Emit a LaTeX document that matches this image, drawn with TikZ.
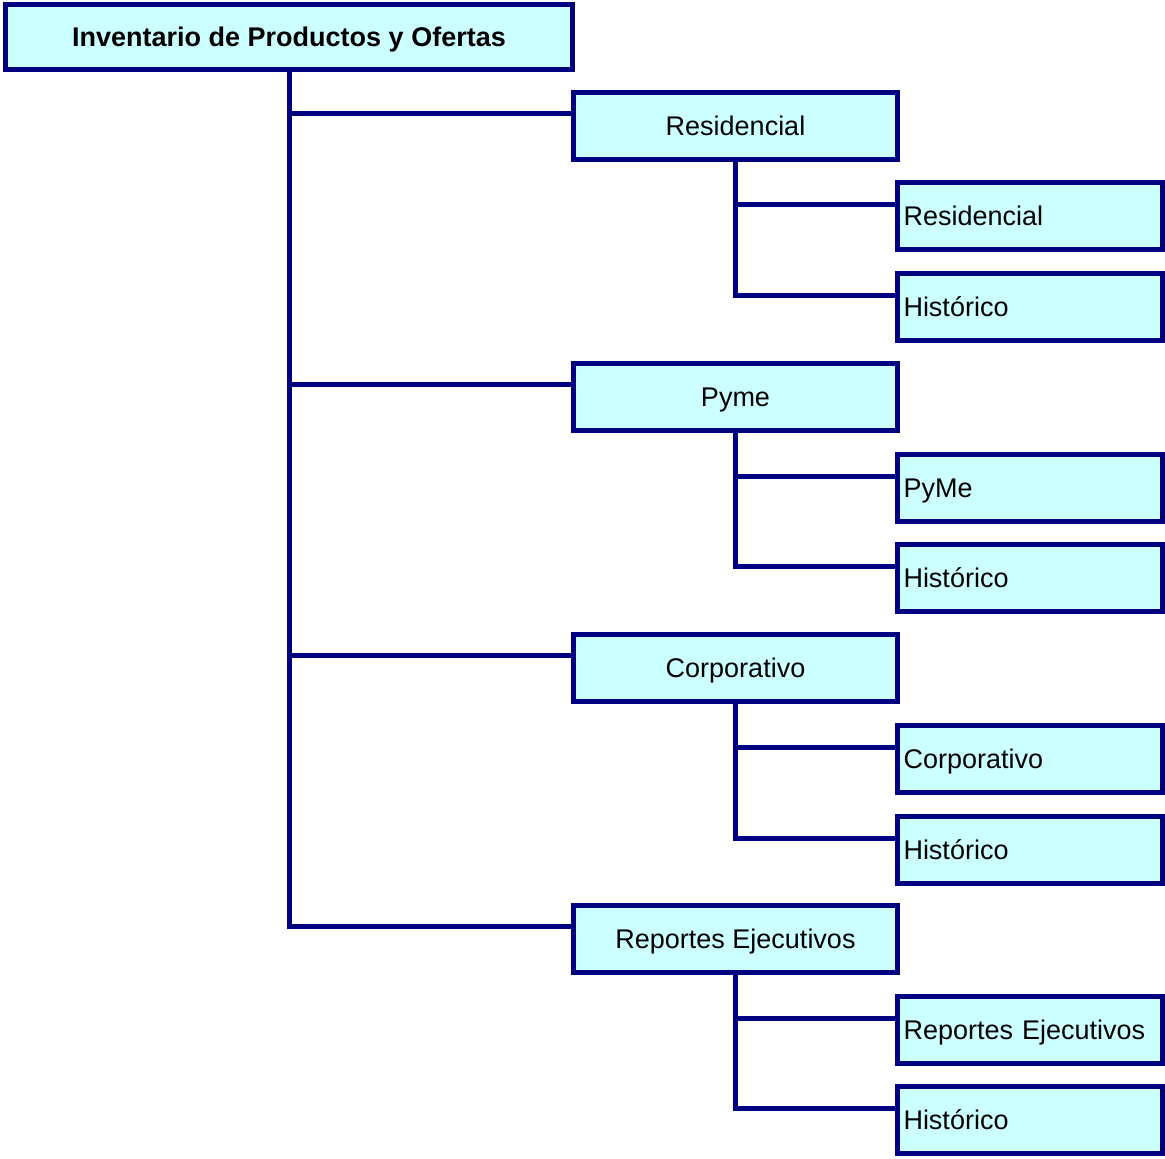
\documentclass[tikz,border=0pt]{standalone}
\usepackage{fontspec}
\setmainfont{Liberation Sans}
\definecolor{boxfill}{HTML}{CCFFFF}
\definecolor{boxline}{HTML}{000080}
\begin{document}
\begin{tikzpicture}[x=1pt,y=-1pt,
  every node/.style={font=\fontsize{27}{32}\selectfont, text=black},
  box/.style={draw=boxline, fill=boxfill, line width=5pt, inner sep=0pt,
              text height=20pt, text depth=1pt},
  rootbox/.style={box, minimum width=567pt, minimum height=65pt, font=\fontsize{27}{32}\selectfont\bfseries},
  midbox/.style={box, minimum width=324pt, minimum height=67pt},
  leafbox/.style={box, minimum height=67pt, text width=253pt, inner xsep=6pt, align=left},
  link/.style={draw=boxline, line width=5pt}
]
\useasboundingbox (0,0) rectangle (1165,1159);

% root
\node[rootbox] (root) at (289,37) {Inventario de Productos y Ofertas};

% second level
\node[midbox] (m1) at (735.5,126) {Residencial};
\node[midbox] (m2) at (735.5,397) {Pyme};
\node[midbox] (m3) at (735.5,668) {Corporativo};
\node[midbox] (m4) at (735.5,939) {Reportes Ejecutivos};

% leaves
\node[leafbox] (l11) at (1030,216) {Residencial};
\node[leafbox] (l12) at (1030,307) {Histórico};
\node[leafbox] (l21) at (1030,488) {PyMe};
\node[leafbox] (l22) at (1030,578) {Histórico};
\node[leafbox] (l31) at (1030,759) {Corporativo};
\node[leafbox] (l32) at (1030,850) {Histórico};
\node[leafbox] (l41) at (1030,1030) {Reportes Ejecutivos};
\node[leafbox] (l42) at (1030,1120) {Histórico};

% connectors: trunk from the root, then one sub-trunk per group
\foreach \m in {m1,m2,m3,m4}
  \path[link] (root.south) |- ([yshift=13pt]\m.west);
\foreach \m/\a/\b in {m1/l11/l12, m2/l21/l22, m3/l31/l32, m4/l41/l42}{
  \path[link] (\m.south) |- ([yshift=12pt]\a.west);
  \path[link] (\m.south) |- ([yshift=12pt]\b.west);
}
\end{tikzpicture}
\end{document}
